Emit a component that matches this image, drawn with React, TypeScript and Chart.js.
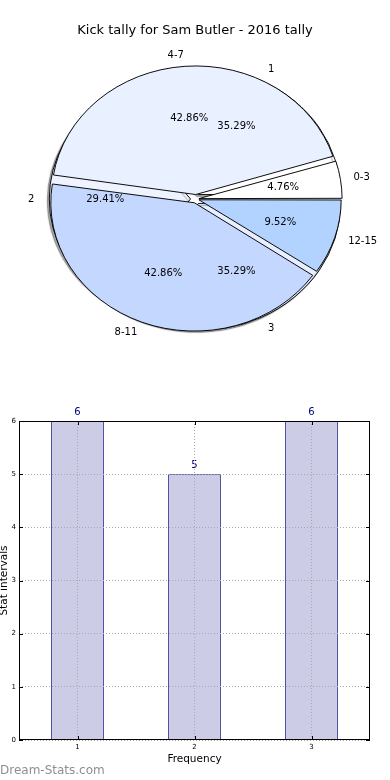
import React, { useEffect, useRef } from 'react';
import { Chart, registerables } from 'chart.js';

Chart.register(...registerables);
Chart.defaults.font.family = '"DejaVu Sans", sans-serif';

// ---- data ----
const pieTitle = 'Kick tally for Sam Butler - 2016 tally';
const intervalLabels = ['0-3', '4-7', '8-11', '12-15'];
const intervalCounts = [1, 9, 9, 2];
const freqLabels = ['1', '2', '3'];
const freqCounts = [6, 5, 6];
const barLabels = ['1', '2', '3'];
const barValues = [6, 5, 6];
const yTickMax = 6;
const xTitle = 'Frequency';
const yTitle = 'Stat intervals';
const watermark = 'Dream-Stats.com';

// ---- styles ----
const intervalColors = ['#ffffff', '#e9f0ff', '#c4d7ff', '#b2d3ff'];
const intervalExplode = [12, 20, 18, 12];
const freqColors = ['#ffffff', '#eef3ff', '#e6eeff'];
const freqExplode = [22, 22, 22];
const PIE_SY = 0.894;
const LABEL_DIST = 1.1;
const PCT_DIST = 0.6;
const FONT = '"DejaVu Sans", sans-serif';

const rev = <T,>(a: T[]) => a.slice().reverse();

const ellipsePlugin = {
  id: 'ellipse',
  beforeDatasetsDraw(chart: any) {
    const { ctx, chartArea } = chart;
    const cx = (chartArea.left + chartArea.right) / 2;
    const cy = (chartArea.top + chartArea.bottom) / 2;
    ctx.save();
    ctx.translate(cx, cy);
    ctx.scale(1, PIE_SY);
    ctx.translate(-cx, -cy);
  },
  afterDatasetsDraw(chart: any) {
    chart.ctx.restore();
  },
};

const shadowPlugin = {
  id: 'pieShadow',
  beforeDatasetsDraw(chart: any) {
    const ctx = chart.ctx;
    ctx.shadowColor = 'rgba(0,0,0,0.35)';
    ctx.shadowOffsetX = -2;
    ctx.shadowOffsetY = 2;
    ctx.shadowBlur = 1;
  },
};

function drawPieTexts(ctx: CanvasRenderingContext2D, c: any) {
  const values = c.data.datasets[0].data as number[];
  const labels = c.data.labels as string[];
  const total = values.reduce((a, b) => a + b, 0);
  const meta = c.getDatasetMeta(0);
  ctx.save();
  ctx.font = `10px ${FONT}`;
  ctx.fillStyle = '#000';
  ctx.textBaseline = 'middle';
  meta.data.forEach((el: any, i: number) => {
    const mid = (el.startAngle + el.endAngle) / 2;
    const cos = Math.cos(mid);
    const sin = Math.sin(mid);
    const t = (el.options.offset || 0) / 4;
    const R = el.outerRadius + 1;
    const ex = el.x + t * cos;
    const ey = el.y + t * sin * PIE_SY;
    ctx.textAlign = cos > 0 ? 'left' : 'right';
    ctx.fillText(labels[i], ex + LABEL_DIST * R * cos, ey + LABEL_DIST * R * sin * PIE_SY);
    ctx.textAlign = 'center';
    ctx.fillText(((values[i] / total) * 100).toFixed(2) + '%', ex + PCT_DIST * R * cos, ey + PCT_DIST * R * sin * PIE_SY);
  });
  ctx.restore();
}

function pieConfig(labels: string[], data: number[], colors: string[], offsets: number[], plugins: any[]): any {
  return {
    type: 'pie',
    data: {
      labels,
      datasets: [
        {
          data,
          backgroundColor: colors,
          borderColor: '#000000',
          borderWidth: 1,
          offset: offsets,
          hoverOffset: 0,
          radius: 141,
          rotation: 90,
        },
      ],
    },
    options: {
      responsive: false,
      animation: false,
      events: [],
      rotation: 90,
      radius: 141,
      layout: { padding: { left: 2, top: 8, right: 0, bottom: 0 } },
      plugins: { legend: { display: false }, tooltip: { enabled: false }, title: { display: false } },
    },
    plugins,
  };
}

const gridCommon = {
  color: '#a8a8a8',
  lineWidth: 1,
  drawTicks: false,
  z: 1,
  borderDash: [1, 2],
};

const barTextPlugin = {
  id: 'barTexts',
  afterDatasetsDraw(chart: any) {
    const ctx = chart.ctx;
    const meta = chart.getDatasetMeta(0);
    const vals = chart.data.datasets[0].data as number[];
    ctx.save();
    ctx.font = `10px ${FONT}`;
    ctx.fillStyle = '#000080';
    ctx.textAlign = 'center';
    ctx.textBaseline = 'middle';
    meta.data.forEach((bar: any, i: number) => {
      ctx.fillText(String(vals[i]), bar.x, bar.y - 9);
    });
    ctx.restore();
  },
  afterDraw(chart: any) {
    const { ctx, chartArea, scales } = chart;
    const { left, right, top, bottom } = chartArea;
    ctx.save();
    ctx.strokeStyle = '#000';
    ctx.lineWidth = 1;
    ctx.beginPath();
    scales.x.ticks.forEach((_t: any, i: number) => {
      const x = Math.round(scales.x.getPixelForTick(i)) + 0.5;
      ctx.moveTo(x, bottom);
      ctx.lineTo(x, bottom - 4);
      ctx.moveTo(x, top);
      ctx.lineTo(x, top + 4);
    });
    scales.y.ticks.forEach((t: any) => {
      const y = Math.round(scales.y.getPixelForValue(t.value)) + 0.5;
      ctx.moveTo(left, y);
      ctx.lineTo(left + 4, y);
      ctx.moveTo(right, y);
      ctx.lineTo(right - 4, y);
    });
    ctx.stroke();
    ctx.strokeRect(Math.round(left) + 0.5, Math.round(top) + 0.5, Math.round(right - left) - 1, Math.round(bottom - top) - 1);
    ctx.restore();
  },
};

export default function App() {
  const pieBRef = useRef<HTMLCanvasElement>(null);
  const pieARef = useRef<HTMLCanvasElement>(null);
  const barRef = useRef<HTMLCanvasElement>(null);

  useEffect(() => {
    document.body.style.margin = '0';
    const chartB = new Chart(
      pieBRef.current as HTMLCanvasElement,
      pieConfig(rev(freqLabels), rev(freqCounts), rev(freqColors), rev(freqExplode), [ellipsePlugin, shadowPlugin])
    );
    const textPlugin = {
      id: 'pieTexts',
      afterDraw(chart: any) {
        drawPieTexts(chart.ctx, chart);
        drawPieTexts(chart.ctx, chartB);
      },
    };
    const chartA = new Chart(
      pieARef.current as HTMLCanvasElement,
      pieConfig(rev(intervalLabels), rev(intervalCounts), rev(intervalColors), rev(intervalExplode), [ellipsePlugin, textPlugin])
    );
    const barChart = new Chart(barRef.current as HTMLCanvasElement, {
      type: 'bar',
      data: {
        labels: barLabels,
        datasets: [
          {
            data: barValues,
            backgroundColor: '#ccccE6',
            borderColor: '#000080',
            borderWidth: 1,
            barPercentage: 0.45,
            categoryPercentage: 1,
          },
        ],
      },
      options: {
        responsive: false,
        animation: false,
        events: [],
        layout: { padding: { top: 21, right: 20, left: 0, bottom: 0 } },
        plugins: { legend: { display: false }, tooltip: { enabled: false } },
        scales: {
          x: {
            grid: { ...gridCommon, offset: false },
            border: { display: false, dash: [1, 2] },
            ticks: { font: { size: 7 }, color: '#000', padding: 3 },
            title: {
              display: true,
              text: xTitle,
              color: '#000',
              font: { size: 10.5 },
              padding: { top: 0, bottom: 14 },
            },
            afterFit: (s: any) => {
              s.height = 40;
            },
          },
          y: {
            min: 0,
            max: yTickMax,
            grid: { ...gridCommon },
            border: { display: false, dash: [1, 2] },
            ticks: { stepSize: 1, font: { size: 7 }, color: '#000', padding: 3 },
            title: {
              display: true,
              text: yTitle,
              color: '#000',
              font: { size: 10.5, lineHeight: 0.8 },
              padding: 0,
            },
            afterFit: (s: any) => {
              s.width = 19;
            },
          },
        },
      } as any,
      plugins: [barTextPlugin],
    } as any);
    return () => {
      chartA.destroy();
      chartB.destroy();
      barChart.destroy();
    };
  }, []);

  return (
    <div style={{ position: 'relative', width: 390, height: 780, overflow: 'hidden', fontFamily: FONT }}>
      <canvas ref={pieBRef} width={390} height={390} style={{ position: 'absolute', left: 0, top: 0 }} />
      <canvas ref={pieARef} width={390} height={390} style={{ position: 'absolute', left: 0, top: 0 }} />
      <canvas ref={barRef} width={390} height={380} style={{ position: 'absolute', left: 0, top: 400 }} />
      <div
        style={{
          position: 'absolute',
          top: 22,
          left: 0,
          width: 390,
          textAlign: 'center',
          fontSize: 13,
          lineHeight: '16px',
          color: '#000',
        }}
      >
        {pieTitle}
      </div>
      <div
        style={{
          position: 'absolute',
          top: 762,
          left: 0,
          fontSize: 12,
          lineHeight: '16px',
          color: '#8f8f8f',
        }}
      >
        {watermark}
      </div>
    </div>
  );
}
